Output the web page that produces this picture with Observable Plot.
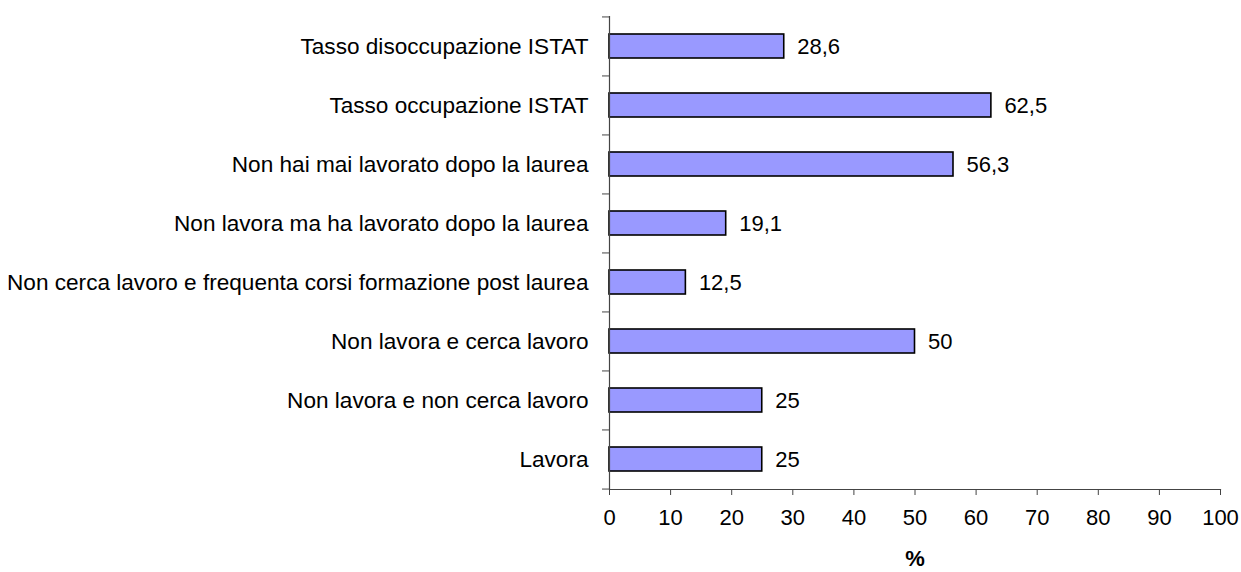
<!DOCTYPE html>
<html>
<head>
<meta charset="utf-8">
<script src="https://cdn.jsdelivr.net/npm/d3@7"></script>
<script src="https://cdn.jsdelivr.net/npm/@observablehq/plot@0.6"></script>
<style>
  html, body { margin: 0; padding: 0; background: #fff; }
</style>
</head>
<body>
<div id="chart"></div>
<script>
const categories = [
  "Tasso disoccupazione ISTAT",
  "Tasso occupazione ISTAT",
  "Non hai mai lavorato dopo la laurea",
  "Non lavora ma ha lavorato dopo la laurea",
  "Non cerca lavoro e frequenta corsi formazione post laurea",
  "Non lavora e cerca lavoro",
  "Non lavora e non cerca lavoro",
  "Lavora"
];
const values = [28.6, 62.5, 56.3, 19.1, 12.5, 50, 25, 25];
const xTicks = [0, 10, 20, 30, 40, 50, 60, 70, 80, 90, 100];

const data = categories.map((c, i) => ({category: c, value: values[i]}));
const fmt = v => String(v).replace(".", ",");

const W = 1241, H = 572, mT = 16, mB = 83, mL = 609, mR = 21;
const step = (H - mT - mB) / categories.length;
const axisColor = "#444";
const FS = 22;

const chart = Plot.plot({
  width: W,
  height: H,
  marginTop: mT,
  marginBottom: mB,
  marginLeft: mL,
  marginRight: mR,
  style: {fontFamily: "'Liberation Sans', Arial, sans-serif", fontSize: FS + "px", color: "#000", background: "#fff"},
  x: {domain: [0, 100]},
  y: {domain: categories, paddingInner: 0.59, paddingOuter: 0.295},
  marks: [
    Plot.barX(data, {x: "value", y: "category", fill: "#9999FF", stroke: "#000", strokeWidth: 1.6}),
    Plot.text(data, {x: "value", y: "category", text: d => fmt(d.value), dx: 13, textAnchor: "start", fill: "#000", fontSize: FS}),
    Plot.ruleX([0], {stroke: axisColor, strokeWidth: 1.2}),
    Plot.frame({anchor: "bottom", stroke: axisColor, strokeWidth: 1.2}),
    Plot.axisY({tickSize: 0, tickPadding: 21, label: null, fill: "#000", fontSize: 22.6}),
    Plot.axisY({tickSize: 7, tickFormat: () => "", label: null, dy: -step / 2, stroke: axisColor}),
    Plot.axisY([categories[categories.length - 1]], {tickSize: 7, tickFormat: () => "", label: null, dy: step / 2, stroke: axisColor}),
    Plot.axisX({ticks: xTicks, tickSize: 6, tickPadding: 14, stroke: axisColor, fill: "#000", fontSize: FS, label: "%", labelAnchor: "center", labelArrow: "none", labelOffset: 76})
  ]
});

d3.select(chart).selectAll("[aria-label='x-axis label'] text").attr("font-weight", "bold");
document.getElementById("chart").appendChild(chart);
</script>
</body>
</html>
